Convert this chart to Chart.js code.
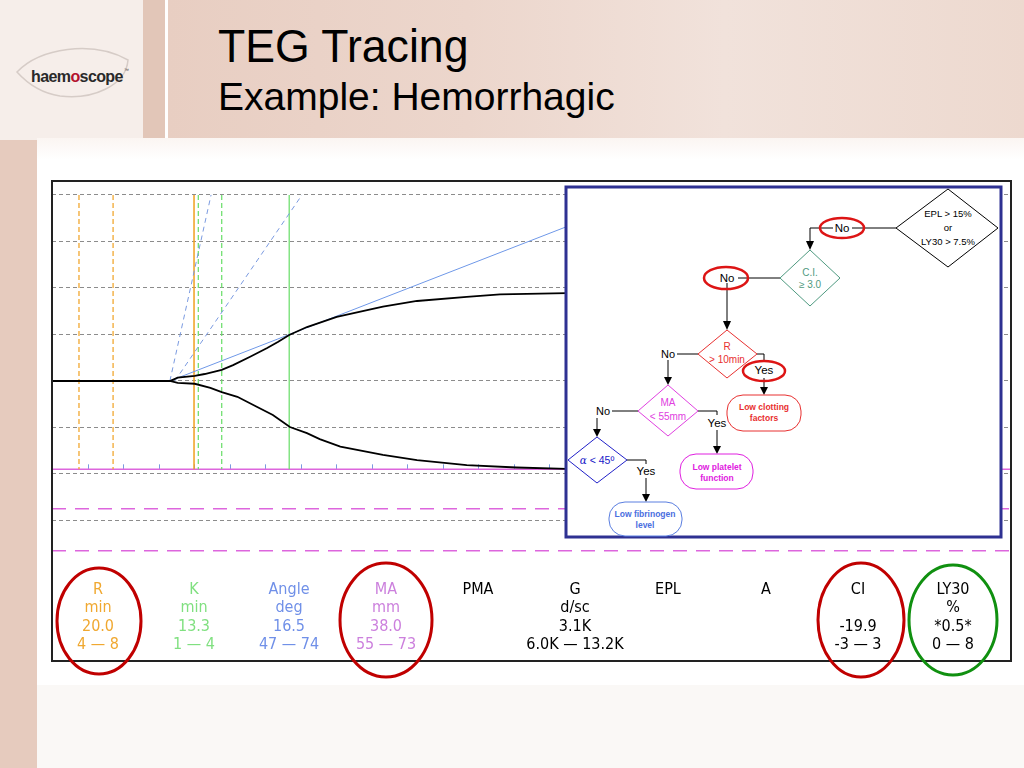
<!DOCTYPE html>
<html><head><meta charset="utf-8">
<script src="https://cdn.jsdelivr.net/npm/chart.js@4"></script>
<style>
html,body{margin:0;padding:0;}
body{width:1024px;height:768px;position:relative;overflow:hidden;background:#fff;font-family:"Liberation Sans",Arial,sans-serif;}
.abs{position:absolute;}
.col{position:absolute;width:110px;text-align:center;font-family:"DejaVu Sans Condensed","DejaVu Sans",sans-serif;font-size:16px;line-height:18.3px;white-space:nowrap;}
</style></head><body>
<!-- slide background -->
<div class="abs" style="left:0;top:0;width:143px;height:140px;background:#f6eeea"></div>
<div class="abs" style="left:143px;top:0;width:22px;height:139px;background:#e2c6b8"></div>
<div class="abs" style="left:168px;top:0;width:856px;height:138px;background:linear-gradient(90deg,#e8cec2 0%,#ecd6cc 35%,#f1e2db 65%,#edd9cf 100%)"></div>
<div class="abs" style="left:37px;top:138px;width:987px;height:22px;background:linear-gradient(180deg,#fbf5f2,#ffffff)"></div>
<div class="abs" style="left:0;top:140px;width:37px;height:628px;background:#e6cbbe"></div>
<div class="abs" style="left:37px;top:685px;width:987px;height:83px;background:#faf8f6"></div>

<!-- logo -->
<svg class="abs" style="left:0;top:0" width="142" height="140">
  <path d="M17,72 C40,48 92,40 128,60 C126,86 92,100 60,96 C40,93 26,82 17,72 Z" fill="none" stroke="#d6ccc7" stroke-width="1.5"/>
  <text x="31" y="82" font-family="Liberation Sans, Arial" font-size="16" font-weight="bold" fill="#2a2a2a" letter-spacing="-0.6">haem<tspan fill="#b3122e">o</tspan>scope</text>
  <text x="124" y="72" font-family="Liberation Sans, Arial" font-size="5" fill="#444">™</text>
</svg>

<!-- title -->
<div class="abs" style="left:218px;top:23px;font-size:46px;line-height:46px;color:#000;white-space:nowrap;transform:scaleX(0.97);transform-origin:left top;">TEG Tracing</div>
<div class="abs" style="left:218px;top:77px;font-size:39px;line-height:39px;color:#000;white-space:nowrap;">Example: Hemorrhagic</div>

<!-- chart -->
<div class="abs" style="left:52px;top:181px;width:958px;height:386px;"><canvas id="c"></canvas></div>
<div class="abs" style="left:51px;top:180px;width:957px;height:478px;border:2px solid #222;"></div>

<!-- parameter table -->
<div id="table"></div>

<!-- flowchart + annotation ellipses -->
<svg class="abs" style="left:0;top:0" width="1024" height="768" font-family="Liberation Sans, Arial, sans-serif">
  <rect x="566" y="187" width="435" height="350" fill="#fff" stroke="#2e3192" stroke-width="3"/>
  <!-- EPL diamond -->
  <polygon points="948,189 998,228 948,267 896,228" fill="#fff" stroke="#000" stroke-width="1"/>
  <text x="948" y="217" font-size="9.5" text-anchor="middle">EPL &gt; 15%</text>
  <text x="948" y="231" font-size="9.5" text-anchor="middle">or</text>
  <text x="948" y="245" font-size="9.5" text-anchor="middle">LY30 &gt; 7.5%</text>
  <line x1="896" y1="228" x2="852" y2="228" stroke="#000"/>
  <text x="842" y="232" font-size="11.5" text-anchor="middle">No</text>
  <polyline points="833,228 810,228 810,241" fill="none" stroke="#000"/>
  <path d="M806,241 L814,241 L810,250 Z"/>
  <!-- CI diamond -->
  <polygon points="810,250 840,278 810,306 780,278" fill="#fff" stroke="#4f9a80" stroke-width="1"/>
  <text x="810" y="276" font-size="10" fill="#4f9a80" text-anchor="middle">C.I.</text>
  <text x="810" y="288" font-size="10" fill="#4f9a80" text-anchor="middle">≥ 3.0</text>
  <line x1="780" y1="278" x2="738" y2="278" stroke="#000"/>
  <text x="727" y="282" font-size="11.5" text-anchor="middle">No</text>
  <line x1="727" y1="283" x2="727" y2="321" stroke="#000"/>
  <path d="M723,321 L731,321 L727,330 Z"/>
  <!-- R diamond -->
  <polygon points="727,330 757,354 727,378 698,354" fill="#fff" stroke="#e83030" stroke-width="1"/>
  <text x="727" y="350" font-size="10" fill="#e83030" text-anchor="middle">R</text>
  <text x="727" y="363" font-size="10" fill="#e83030" text-anchor="middle">&gt; 10min</text>
  <line x1="698" y1="354" x2="677" y2="354" stroke="#000"/>
  <text x="668" y="358" font-size="11" text-anchor="middle">No</text>
  <line x1="668" y1="360" x2="668" y2="377" stroke="#000"/>
  <path d="M664,377 L672,377 L668,385 Z"/>
  <polyline points="757,354 764,354 764,362" fill="none" stroke="#000"/>
  <text x="764" y="374" font-size="11.5" text-anchor="middle">Yes</text>
  <line x1="764" y1="378" x2="764" y2="387" stroke="#000"/>
  <path d="M760,387 L768,387 L764,395 Z"/>
  <rect x="727" y="395" width="74" height="36" rx="16" fill="#fff" stroke="#e83030" stroke-width="1"/>
  <text x="764" y="410" font-size="8.5" font-weight="bold" fill="#e83030" text-anchor="middle">Low clotting</text>
  <text x="764" y="421" font-size="8.5" font-weight="bold" fill="#e83030" text-anchor="middle">factors</text>
  <!-- MA diamond -->
  <polygon points="668,385 698,411 668,436 638,411" fill="#fff" stroke="#e040e0" stroke-width="1"/>
  <text x="668" y="406" font-size="10" fill="#e040e0" text-anchor="middle">MA</text>
  <text x="668" y="420" font-size="10" fill="#e040e0" text-anchor="middle">&lt; 55mm</text>
  <line x1="638" y1="411" x2="612" y2="411" stroke="#000"/>
  <text x="603" y="415" font-size="11" text-anchor="middle">No</text>
  <line x1="597" y1="418" x2="597" y2="429" stroke="#000"/>
  <path d="M593,429 L601,429 L597,437 Z"/>
  <polyline points="698,411 717,411 717,415" fill="none" stroke="#000"/>
  <text x="717" y="427" font-size="11.5" text-anchor="middle">Yes</text>
  <line x1="717" y1="430" x2="717" y2="446" stroke="#000"/>
  <path d="M713,446 L721,446 L717,454 Z"/>
  <rect x="680" y="454" width="73" height="35" rx="16" fill="#fff" stroke="#e020e0" stroke-width="1"/>
  <text x="717" y="470" font-size="8.5" font-weight="bold" fill="#e020e0" text-anchor="middle">Low platelet</text>
  <text x="717" y="481" font-size="8.5" font-weight="bold" fill="#e020e0" text-anchor="middle">function</text>
  <!-- alpha diamond -->
  <polygon points="597,437 627,460 597,483 568,460" fill="#fff" stroke="#2020c8" stroke-width="1"/>
  <text x="597" y="464" font-size="10.5" fill="#2020c8" text-anchor="middle"><tspan font-style="italic" font-family="DejaVu Serif">α</tspan> &lt; 45º</text>
  <polyline points="627,460 646,460 646,464" fill="none" stroke="#000"/>
  <text x="646" y="475" font-size="11.5" text-anchor="middle">Yes</text>
  <line x1="646" y1="478" x2="646" y2="494" stroke="#000"/>
  <path d="M642,494 L650,494 L646,502 Z"/>
  <rect x="609" y="502" width="73" height="34" rx="16" fill="#fff" stroke="#5a7ee0" stroke-width="1"/>
  <text x="645" y="517" font-size="8.5" font-weight="bold" fill="#4a6ee0" text-anchor="middle">Low fibrinogen</text>
  <text x="645" y="528" font-size="8.5" font-weight="bold" fill="#4a6ee0" text-anchor="middle">level</text>
  <!-- red ellipses in flowchart -->
  <ellipse cx="842" cy="228" rx="22" ry="10" fill="none" stroke="#dd1515" stroke-width="2.5"/>
  <ellipse cx="726" cy="278" rx="22" ry="11" fill="none" stroke="#dd1515" stroke-width="2.5"/>
  <ellipse cx="764" cy="371" rx="21" ry="10" fill="none" stroke="#dd1515" stroke-width="2.5"/>
  <!-- table ellipses -->
  <ellipse cx="99" cy="621" rx="42" ry="53" fill="none" stroke="#c00000" stroke-width="3"/>
  <ellipse cx="386" cy="620" rx="46" ry="57" fill="none" stroke="#c00000" stroke-width="3"/>
  <ellipse cx="861" cy="620" rx="43" ry="57" fill="none" stroke="#c00000" stroke-width="3"/>
  <ellipse cx="953" cy="620" rx="44" ry="55" fill="none" stroke="#109010" stroke-width="3"/>
</svg>

<script>
// ---- TEG trace data (time in minutes, amplitude in mm) ----
const upperTime = [0, 16.6, 17.7, 20.1, 21.5, 23.9, 25.5, 27.9, 30.3, 31.8, 33.4, 35.9, 40.1, 46.6, 51.4, 58.4, 63.1, 72.5];
const upperAmp  = [0, 0,    0.7,  1.1,  1.5,  2.4,  3.4,  5.2,  7.1,  8.4,  9.9,  11.6, 13.8, 16.0, 17.2, 18.1, 18.6, 18.9];
const lowerTime = [0, 16.6, 17.7, 20.1, 22.3, 23.9, 26.1, 28.9, 31.1, 33.5, 35.9, 37.7, 40.6, 46.6, 51.4, 58.4, 65.4, 72.5];
const lowerAmp  = [0, 0,   -0.4, -0.6, -1.5, -2.4, -3.4, -5.6, -7.3, -9.9, -11.2, -12.5, -14.1, -15.9, -17.0, -18.1, -18.6, -18.9];

// angle construction lines (start/end in minutes, mm)
const tangentLine = [[16.6, 0], [72.5, 33.2]];
const angleGuideA = [[16.6, 0], [22.4, 40]];
const angleGuideB = [[17.3, 0], [35.2, 40]];

// vertical markers (minutes)
const rNormalRange = [3.8, 8.6];   // orange dashed
const rValueLine = [20.0];         // orange solid
const kNormalRange = [20.6, 23.9]; // green dashed
const kValueLine = [33.4];         // green solid
const markerTop = 40, markerBottom = -19;

// MA lines (half amplitudes, mm)
const maValueHalf = -19;           // MA 38 mm
const maRangeHalf = [-27.5, -36.5];// 55 – 73 mm

const xMax = 134.9;
const yMin = -40, yMax = 43;
const tickEvery = 5;

// ---- table ----
const paramNames  = ["R", "K", "Angle", "MA", "PMA", "G", "EPL", "A", "CI", "LY30"];
const paramUnits  = ["min", "min", "deg", "mm", "", "d/sc", "", "", "", "%"];
const paramValues = ["20.0", "13.3", "16.5", "38.0", "", "3.1K", "", "", "-19.9", "*0.5*"];
const paramRanges = ["4 — 8", "1 — 4", "47 — 74", "55 — 73", "", "6.0K — 13.2K", "", "", "-3 — 3", "0 — 8"];
const paramX = [98, 194, 289, 386, 478, 575, 668, 766, 858, 953];
const paramColors = ["#f0a830", "#80e080", "#7090e8", "#cc80dd", "#000", "#000", "#000", "#000", "#000", "#000"];

const tbl = document.getElementById('table');
paramNames.forEach((n, i) => {
  const d = document.createElement('div');
  d.className = 'col';
  d.style.left = (paramX[i] - 55) + 'px';
  d.style.top = '580px';
  d.style.color = paramColors[i];
  d.innerHTML = [n, paramUnits[i], paramValues[i], paramRanges[i]].map(s => s || '&nbsp;').join('<br>');
  tbl.appendChild(d);
});

const pts = (xs, ys) => xs.map((x, i) => ({x, y: ys[i]}));
const seg = (p) => p.map(([x, y]) => ({x, y}));
const vline = (x) => [{x, y: markerTop}, {x, y: markerBottom}];
const hline = (y) => [{x: 0, y}, {x: xMax, y}];

const base = {showLine: true, pointRadius: 0, fill: false, tension: 0};
const datasets = [
  {...base, data: pts(upperTime, upperAmp), borderColor: '#000', borderWidth: 1.8},
  {...base, data: pts(lowerTime, lowerAmp), borderColor: '#000', borderWidth: 1.8},
  {...base, data: seg(tangentLine), borderColor: '#6f98e8', borderWidth: 1},
  {...base, data: seg(angleGuideA), borderColor: '#7a9ae0', borderWidth: 1, borderDash: [5, 4]},
  {...base, data: seg(angleGuideB), borderColor: '#7a9ae0', borderWidth: 1, borderDash: [5, 4]},
  ...rValueLine.map(x => ({...base, data: vline(x), borderColor: '#f0a020', borderWidth: 1.5})),
  ...rNormalRange.map(x => ({...base, data: vline(x), borderColor: '#f0a020', borderWidth: 1.2, borderDash: [5, 3]})),
  ...kValueLine.map(x => ({...base, data: vline(x), borderColor: '#66dd66', borderWidth: 1.2})),
  ...kNormalRange.map(x => ({...base, data: vline(x), borderColor: '#66dd66', borderWidth: 1.2, borderDash: [5, 3]})),
  {...base, data: hline(maValueHalf), borderColor: '#dd66dd', borderWidth: 1.5},
  ...maRangeHalf.map(y => ({...base, data: hline(y), borderColor: '#dd66dd', borderWidth: 1.5, borderDash: [14, 9]}))
];

const tickPlugin = {
  id: 'timeTicks',
  beforeDatasetsDraw(chart) {
    const {ctx, scales: {x, y}} = chart;
    const yy = y.getPixelForValue(maValueHalf);
    ctx.save();
    ctx.strokeStyle = '#7a9ae0';
    ctx.lineWidth = 1;
    for (let t = tickEvery; t < xMax; t += tickEvery) {
      const xx = Math.round(x.getPixelForValue(t)) + 0.5;
      ctx.beginPath(); ctx.moveTo(xx, yy - 5); ctx.lineTo(xx, yy); ctx.stroke();
    }
    ctx.restore();
  }
};

new Chart(document.getElementById('c'), {
  type: 'scatter',
  data: {datasets},
  options: {
    responsive: true, maintainAspectRatio: false, animation: false,
    layout: {padding: 0},
    plugins: {legend: {display: false}, tooltip: {enabled: false}},
    scales: {
      x: {type: 'linear', min: 0, max: xMax, display: false},
      y: {
        type: 'linear', min: yMin, max: yMax,
        afterBuildTicks: (s) => { s.ticks = s.ticks.filter(t => t.value % 10 === 0); },
        ticks: {display: false, stepSize: 10},
        border: {display: false, dash: [4, 3]},
        grid: {drawTicks: false, color: '#8c8c8c', lineWidth: 1}
      }
    }
  },
  plugins: [tickPlugin]
});
</script>
</body></html>
